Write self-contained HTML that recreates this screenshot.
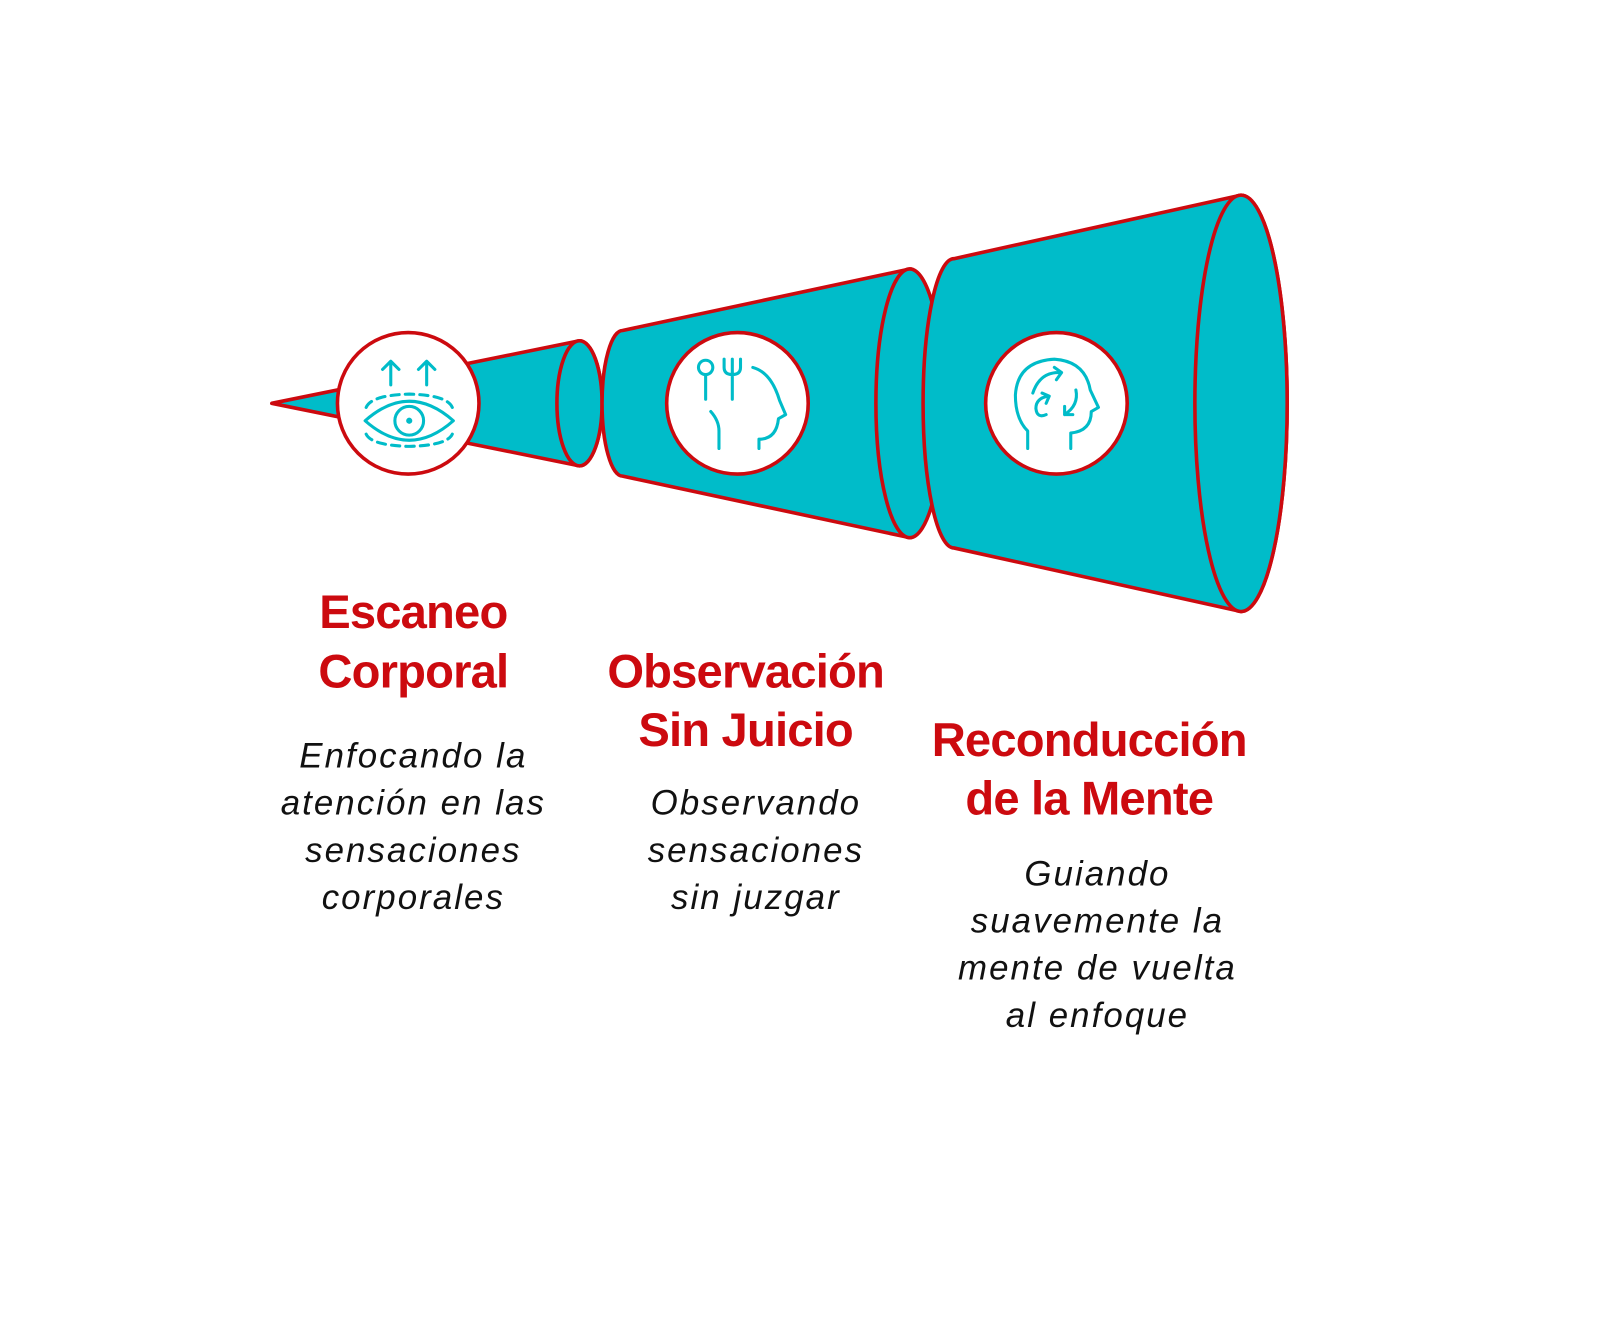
<!DOCTYPE html>
<html><head><meta charset="utf-8"><style>
html,body{margin:0;padding:0;background:#fff;}
svg{display:block}
.t{font-family:"Liberation Sans",sans-serif;font-weight:bold;font-size:46px;fill:#cc0a0f;text-anchor:middle;letter-spacing:-0.8px}
.b{font-family:"Liberation Sans",sans-serif;font-style:italic;font-size:34px;fill:#111;text-anchor:middle;letter-spacing:2px}
</style></head><body>
<svg width="1600" height="1341" viewBox="0 0 1560 1307" xmlns="http://www.w3.org/2000/svg">
<g stroke="#cc0a0f" stroke-width="3.5" fill="#00bcc9" stroke-linejoin="round">
  <path d="M265,393 L565,332 A22,61 0 0 1 565,454 Z"/>
  <ellipse cx="565" cy="393" rx="22" ry="61"/>
  <path d="M607,322 L887,262 A30,131 0 0 1 887,524 L607,464 A20,71 0 0 1 607,322 Z"/>
  <ellipse cx="887" cy="393" rx="33" ry="131"/>
  <path d="M930,252 L1210,190 A45,203 0 0 1 1210,596 L930,534 A30,141 0 0 1 930,252 Z"/>
  <ellipse cx="1210" cy="393" rx="45" ry="203"/>
</g>
<g stroke="#cc0a0f" stroke-width="3.5" fill="#fff">
  <circle cx="398" cy="393" r="69"/>
  <circle cx="719" cy="393" r="69"/>
  <circle cx="1030" cy="393" r="69"/>
</g>
<g stroke="#00bcc9" stroke-width="3" fill="none" stroke-linecap="round" stroke-linejoin="round">
  <path d="M381,375 V352 M373,360 L381,352 L389,360"/>
  <path d="M416,375 V352 M408,360 L416,352 L424,360"/>
  <path d="M357,397 Q362,385 399,384 Q436,385 441,397" stroke-dasharray="8 6"/>
  <path d="M357,423 Q362,434 399,435 Q436,434 441,423" stroke-dasharray="8 6"/>
  <path d="M356,410 Q399,372 442,410 Q399,448 356,410 Z"/>
  <circle cx="399" cy="410" r="14"/>
  <circle cx="399" cy="410" r="1.5" fill="#00bcc9"/>
  <circle cx="688" cy="358" r="7"/>
  <path d="M688,365 V389"/>
  <path d="M714,365 V389 M706,350 V358 Q706,365 714,365 Q722,365 722,358 V350 M714,350 V365"/>
  <path d="M734,358 Q752,363 760,390 L766,404 L759,408 Q757,428 740,428 V437"/>
  <path d="M693,401 Q701,410 701,420 V437"/>
  <path d="M1002,437 V420 Q990,408 990,385 Q992,352 1028,350 Q1058,352 1063,380 L1071,397 L1064,401 Q1064,420 1044,422 V437"/>
  <path d="M1007,383 Q1014,362 1034,363 M1028,358 L1035,363 L1030,370"/>
  <path d="M1022,386 Q1010,388 1010,398 Q1011,408 1020,404 M1016,383 L1023,386 L1020,393"/>
  <path d="M1049,380 Q1052,395 1038,404 M1038,396 L1038,404 L1046,404"/>
</g>
<text class="t" x="403" y="612">Escaneo</text>
<text class="t" x="403" y="670">Corporal</text>
<text class="b" x="403" y="748">Enfocando la</text>
<text class="b" x="403" y="794">atención en las</text>
<text class="b" x="403" y="840">sensaciones</text>
<text class="b" x="403" y="886">corporales</text>

<text class="t" x="727" y="670">Observación</text>
<text class="t" x="727" y="727">Sin Juicio</text>
<text class="b" x="737" y="794">Observando</text>
<text class="b" x="737" y="840">sensaciones</text>
<text class="b" x="737" y="886">sin juzgar</text>

<text class="t" x="1062" y="737">Reconducción</text>
<text class="t" x="1062" y="794">de la Mente</text>
<text class="b" x="1070" y="863">Guiando</text>
<text class="b" x="1070" y="909">suavemente la</text>
<text class="b" x="1070" y="955">mente de vuelta</text>
<text class="b" x="1070" y="1001">al enfoque</text>
</svg>
</body></html>
